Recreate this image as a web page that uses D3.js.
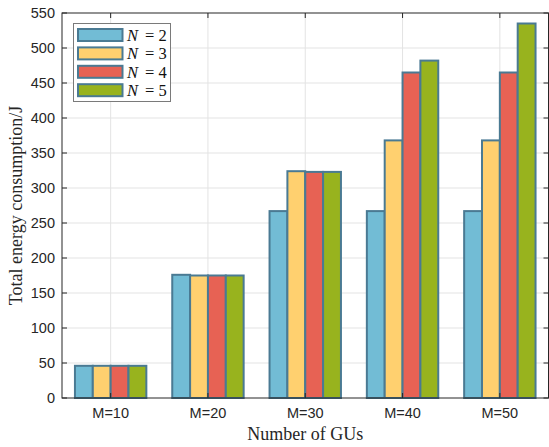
<!DOCTYPE html>
<html>
<head>
<meta charset="utf-8">
<script src="https://cdn.jsdelivr.net/npm/d3@7"></script>
<style>
  html, body { margin: 0; padding: 0; background: #fff; }
  svg { display: block; }
</style>
</head>
<body>
<svg id="chart" width="549" height="447"></svg>
<script>
// Energy consumption per number of ground users, for each N
const categories = ["M=10", "M=20", "M=30", "M=40", "M=50"];
const seriesNames = ["N = 2", "N = 3", "N = 4", "N = 5"];
const seriesN = ["2", "3", "4", "5"];
const valuesN2 = [46, 176, 267, 267, 267];
const valuesN3 = [46, 175, 324, 368, 368];
const valuesN4 = [46, 175, 323, 465, 465];
const valuesN5 = [46, 175, 323, 482, 535];
const yTicks = [0, 50, 100, 150, 200, 250, 300, 350, 400, 450, 500, 550];
const colors = ["#72bcd5", "#ffd06f", "#e76254", "#98b31e"];

const series = [valuesN2, valuesN3, valuesN4, valuesN5];

const svg = d3.select("#chart");
const plotL = 62, plotR = 548.5, plotT = 13, plotB = 398;
const axisColor = "#262626";

const x = d3.scaleBand().domain(categories).range([plotL, plotR]).padding(0);
const bw = x.bandwidth();
const groupW = 71.4;
const xi = d3.scaleBand().domain(d3.range(series.length))
  .range([bw / 2 - groupW / 2, bw / 2 + groupW / 2]).padding(0);
const y = d3.scaleLinear().domain([0, 550]).range([plotB, plotT]);

// grid
const grid = svg.append("g");
grid.selectAll("line.h").data(yTicks.slice(1, -1)).join("line")
  .attr("x1", plotL).attr("x2", plotR)
  .attr("y1", d => y(d)).attr("y2", d => y(d))
  .attr("stroke", "#e3e3e3").attr("stroke-width", 1);
grid.selectAll("line.v").data(categories).join("line")
  .attr("x1", d => x(d) + bw / 2).attr("x2", d => x(d) + bw / 2)
  .attr("y1", plotT).attr("y2", plotB)
  .attr("stroke", "#e3e3e3").attr("stroke-width", 1);

// bars
const bars = svg.append("g");
categories.forEach((c, ci) => {
  series.forEach((s, si) => {
    bars.append("rect")
      .attr("x", x(c) + xi(si))
      .attr("y", y(s[ci]))
      .attr("width", xi.bandwidth())
      .attr("height", y(0) - y(s[ci]))
      .attr("fill", colors[si])
      .attr("stroke", "#4a7a93")
      .attr("stroke-width", 2);
  });
});

// axes box with ticks on all sides
const tickLen = 5;
const axisG = svg.append("g").attr("stroke", axisColor).attr("stroke-width", 1);
axisG.append("rect").attr("x", plotL).attr("y", plotT)
  .attr("width", plotR - plotL).attr("height", plotB - plotT)
  .attr("fill", "none").attr("stroke", axisColor);
yTicks.forEach(t => {
  axisG.append("line").attr("x1", plotL).attr("x2", plotL + tickLen)
    .attr("y1", y(t)).attr("y2", y(t));
  axisG.append("line").attr("x1", plotR).attr("x2", plotR - tickLen)
    .attr("y1", y(t)).attr("y2", y(t));
});
categories.forEach(c => {
  const cx = x(c) + bw / 2;
  axisG.append("line").attr("x1", cx).attr("x2", cx)
    .attr("y1", plotB).attr("y2", plotB - tickLen);
  axisG.append("line").attr("x1", cx).attr("x2", cx)
    .attr("y1", plotT).attr("y2", plotT + tickLen);
});

// tick labels
const tickFont = "'Liberation Sans', Arial, sans-serif";
svg.append("g").selectAll("text").data(yTicks).join("text")
  .attr("x", plotL - 7).attr("y", d => y(d))
  .attr("dy", "0.35em").attr("text-anchor", "end")
  .attr("font-family", tickFont).attr("font-size", 14.5)
  .attr("fill", axisColor).text(d => d);
svg.append("g").selectAll("text").data(categories).join("text")
  .attr("x", d => x(d) + bw / 2).attr("y", plotB + 20)
  .attr("text-anchor", "middle")
  .attr("font-family", tickFont).attr("font-size", 14.5)
  .attr("fill", axisColor).text(d => d);

// axis titles
const serif = "'Liberation Serif', 'Times New Roman', serif";
svg.append("text")
  .attr("x", (plotL + plotR) / 2).attr("y", 440)
  .attr("text-anchor", "middle")
  .attr("font-family", serif).attr("font-size", 18)
  .attr("fill", axisColor).text("Number of GUs");
svg.append("text")
  .attr("transform", `translate(22,${(plotT + plotB) / 2}) rotate(-90)`)
  .attr("text-anchor", "middle")
  .attr("font-family", serif).attr("font-size", 18)
  .attr("fill", axisColor).text("Total energy consumption/J");

// legend
const lg = svg.append("g");
lg.append("rect").attr("x", 73.5).attr("y", 23.5)
  .attr("width", 97).attr("height", 78)
  .attr("fill", "#fff").attr("stroke", "#7a7a7a").attr("stroke-width", 1);
seriesNames.forEach((name, i) => {
  const cy = 35 + i * 18.4;
  lg.append("rect").attr("x", 78).attr("y", cy - 6)
    .attr("width", 44.5).attr("height", 12)
    .attr("fill", colors[i]).attr("stroke", "#4a7a93").attr("stroke-width", 2);
  const t = lg.append("text").attr("y", cy)
    .attr("dy", "0.35em")
    .attr("font-family", serif).attr("font-size", 16.5).attr("fill", "#111");
  t.append("tspan").attr("x", 127).attr("font-style", "italic").text("N");
  t.append("tspan").attr("x", 145).text("=");
  t.append("tspan").attr("x", 158.5).text(seriesN[i]);
});
</script>
</body>
</html>
